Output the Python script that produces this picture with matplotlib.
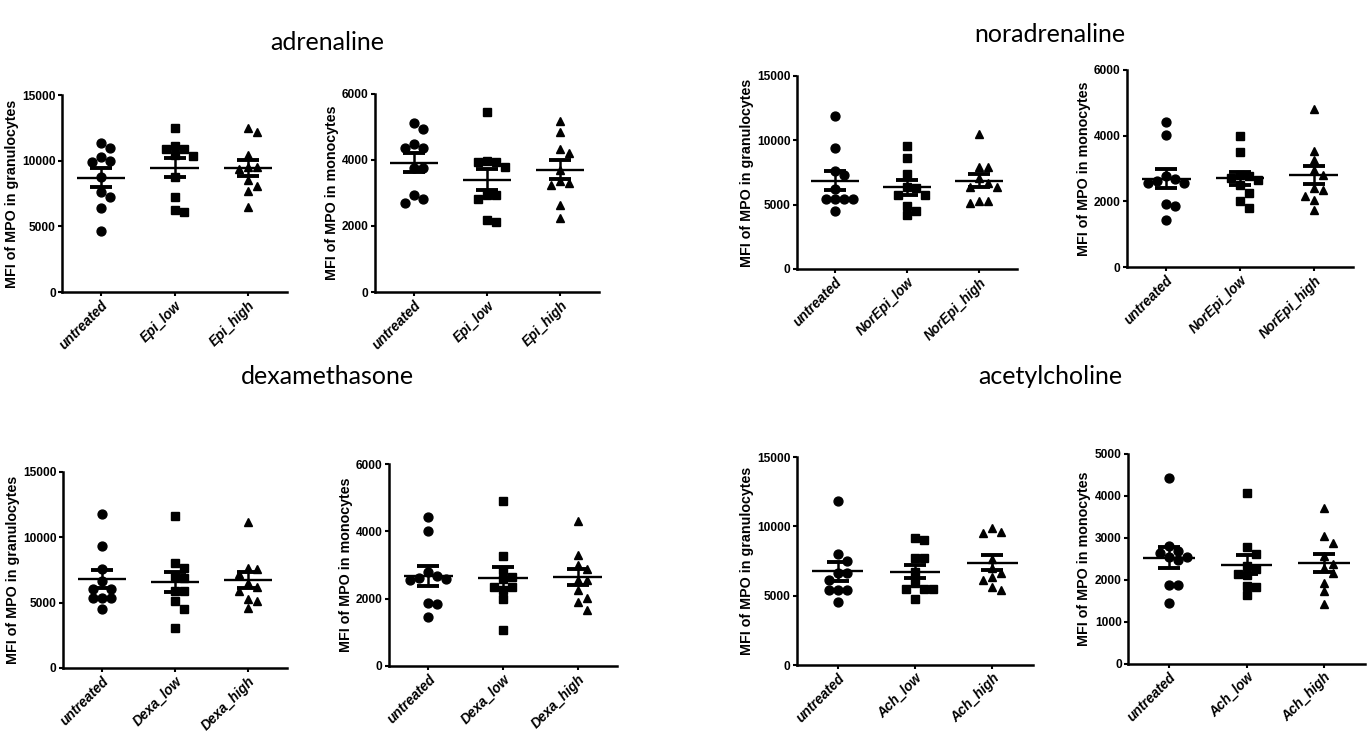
import numpy as np
import matplotlib.pyplot as plt

# === values (MFI of MPO) ===
adr_labels = ["untreated", "Epi_low", "Epi_high"]
nor_labels = ["untreated", "NorEpi_low", "NorEpi_high"]
dexa_labels = ["untreated", "Dexa_low", "Dexa_high"]
ach_labels = ["untreated", "Ach_low", "Ach_high"]

adr_gran_untr = [11380, 10950, 10310, 10010, 9930, 8720, 7600, 7200, 6390, 4610]
adr_gran_low = [12520, 11150, 10870, 10870, 10440, 10360, 8790, 7270, 6260, 6080]
adr_gran_high = [12470, 12210, 10440, 9550, 9550, 9350, 8540, 8080, 7700, 6510]

adr_mono_untr = [5110, 4930, 4500, 4350, 4350, 3770, 3770, 2930, 2830, 2700]
adr_mono_low = [5440, 3970, 3930, 3930, 3790, 2930, 2930, 2830, 2180, 2130]
adr_mono_high = [5180, 4860, 4320, 4220, 3710, 3360, 3290, 3240, 2630, 2250]

nor_gran_untr = [11880, 9420, 7620, 7310, 6200, 5420, 5420, 5420, 5420, 4540]
nor_gran_low = [9550, 8650, 7360, 6400, 6300, 5760, 5760, 4910, 4540, 4180]
nor_gran_high = [10480, 7900, 7900, 7050, 6710, 6400, 6400, 5290, 5290, 5160]

nor_mono_untr = [4430, 4020, 2780, 2680, 2610, 2570, 2550, 1920, 1870, 1440]
nor_mono_low = [3990, 3490, 2810, 2760, 2710, 2660, 2500, 2250, 2020, 1790]
nor_mono_high = [4800, 3520, 3260, 2940, 2810, 2400, 2350, 2150, 2050, 1740]

dexa_gran_untr = [11810, 9310, 7580, 6630, 6050, 6050, 5360, 5360, 5360, 4520]
dexa_gran_low = [11660, 8040, 7650, 7070, 6890, 5920, 5870, 5100, 4520, 3060]
dexa_gran_high = [11150, 7650, 7550, 7200, 6500, 6200, 5900, 5300, 5150, 4600]

dexa_mono_untr = [4420, 4010, 2780, 2660, 2600, 2580, 2550, 1880, 1850, 1450]
dexa_mono_low = [4890, 3280, 2860, 2640, 2580, 2360, 2340, 2260, 1980, 1070]
dexa_mono_high = [4310, 3300, 3010, 2880, 2560, 2540, 2260, 2010, 1910, 1670]

ach_gran_untr = [11830, 8040, 7510, 6600, 6600, 6120, 5400, 5400, 5400, 4560]
ach_gran_low = [9150, 9050, 7750, 7700, 6700, 5900, 5500, 5450, 5450, 4750]
ach_gran_high = [9910, 9600, 9530, 7680, 7000, 6600, 6360, 6120, 5640, 5400]

ach_mono_untr = [4430, 2800, 2680, 2640, 2540, 2540, 2470, 1890, 1870, 1450]
ach_mono_low = [4060, 2790, 2630, 2340, 2260, 2140, 2110, 1850, 1830, 1640]
ach_mono_high = [3710, 3040, 2870, 2560, 2390, 2290, 2170, 1940, 1730, 1430]

GRAN = "MFI of MPO in granulocytes"
MONO = "MFI of MPO in monocytes"

# axes boxes in pixels: left, top, right, bottom; last item = y label offset (px)
panels = [
    ((adr_gran_untr, adr_gran_low, adr_gran_high), adr_labels, GRAN, 15000, 5000, (62, 95, 287, 292), 43),
    ((adr_mono_untr, adr_mono_low, adr_mono_high), adr_labels, MONO, 6000, 2000, (375, 94, 599, 292), 36),
    ((nor_gran_untr, nor_gran_low, nor_gran_high), nor_labels, GRAN, 15000, 5000, (797, 76, 1017, 269), 43),
    ((nor_mono_untr, nor_mono_low, nor_mono_high), nor_labels, MONO, 6000, 2000, (1127, 70, 1353, 267), 36),
    ((dexa_gran_untr, dexa_gran_low, dexa_gran_high), dexa_labels, GRAN, 15000, 5000, (63, 472, 287, 668), 43),
    ((dexa_mono_untr, dexa_mono_low, dexa_mono_high), dexa_labels, MONO, 6000, 2000, (389, 464, 617, 666), 36),
    ((ach_gran_untr, ach_gran_low, ach_gran_high), ach_labels, GRAN, 15000, 5000, (797, 457, 1033, 665), 43),
    ((ach_mono_untr, ach_mono_low, ach_mono_high), ach_labels, MONO, 5000, 1000, (1128, 454, 1365, 664), 37),
]

titles = [("adrenaline", 327, 42), ("noradrenaline", 1050, 35),
          ("dexamethasone", 327, 376), ("acetylcholine", 1050, 376)]

W, H = 1368, 751
markers = ["o", "s", "^"]
msizes = [6.4, 6.0, 6.4]
narrow = ["Liberation Sans Narrow", "Liberation Sans", "DejaVu Sans"]
sans = ["Liberation Sans", "DejaVu Sans"]


def swarm_offsets(vals, px_x, px_y, diam=8.5, step=9.0):
    # simple column scatter: push points sideways until they don't overlap
    vals = np.asarray(vals, float)
    order = np.argsort(vals)[::-1]
    placed = []
    offs = np.zeros(len(vals))
    cands = [0.0] + [s * j for j in range(1, 8) for s in (1, -1)]
    for i in order:
        y = vals[i] * px_y
        for c in cands:
            x = c * step
            if all((x - qx) ** 2 + (y - qy) ** 2 >= diam ** 2 for qx, qy in placed):
                break
        placed.append((x, y))
        offs[i] = x / px_x
    return offs


fig = plt.figure(figsize=(W / 100, H / 100), dpi=100)

for data, cats, ylabel, ymax, ystep, (l, t, r, b), lab_off in panels:
    ax = fig.add_axes([l / W, 1 - b / H, (r - l) / W, (b - t) / H])
    xlo, xhi = -0.53, 2.53
    ax.set_xlim(xlo, xhi)
    ax.set_ylim(0, ymax)
    px_x = (r - l) / (xhi - xlo)
    px_y = (b - t) / ymax
    for i, vals in enumerate(data):
        vals = np.asarray(vals, float)
        offs = swarm_offsets(vals, px_x, px_y)
        ax.plot(i + offs, vals, ls="none", marker=markers[i], ms=msizes[i],
                color="black", mec="black", zorder=3, clip_on=False)
        m = vals.mean()
        sem = vals.std(ddof=1) / np.sqrt(len(vals))
        ax.hlines(m, i - 0.33, i + 0.33, color="black", lw=1.7, zorder=4)
        ax.errorbar(i, m, yerr=sem, fmt="none", ecolor="black", elinewidth=1.8,
                    capsize=8, capthick=2.8, zorder=4)
    ax.spines[["top", "right"]].set_visible(False)
    for s in ("left", "bottom"):
        ax.spines[s].set_linewidth(1.8)
    ax.set_yticks(np.arange(0, ymax + 1, ystep))
    ax.set_xticks(range(3))
    ax.set_xticklabels(cats, rotation=45, ha="right", rotation_mode="anchor",
                       fontstyle="italic", fontweight="bold", fontsize=9.8,
                       family=sans)
    for lab in ax.get_yticklabels():
        lab.set_family(narrow)
        lab.set_fontweight("bold")
        lab.set_fontsize(8.6)
    ax.tick_params(axis="both", direction="out", length=3, width=1.5, pad=1.5)
    ax.set_ylabel(ylabel, fontsize=10.3, fontweight="bold", family=sans)
    ax.yaxis.set_label_coords(-lab_off / (r - l), 0.5)

for txt, x, y in titles:
    fig.text(x / W, 1 - y / H, txt, ha="center", va="center", fontsize=18,
             family=["Lato", "DejaVu Sans"])

fig.savefig("out.png", dpi=100)
